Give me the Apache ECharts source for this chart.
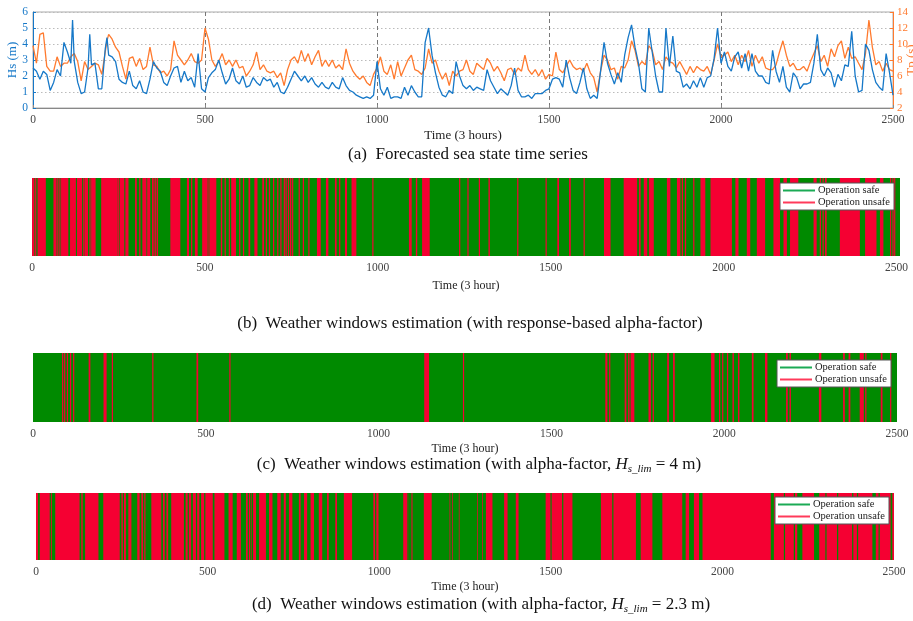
<!DOCTYPE html>
<html>
<head>
<meta charset="utf-8">
<script src="https://cdn.jsdelivr.net/npm/echarts@6/dist/echarts.min.js"></script>
<style>html,body{margin:0;padding:0;background:#fff;}#c{width:913px;height:621px;}</style>
</head>
<body>
<div id="c"></div>
<script>
// ---------- Panel (a): forecasted sea state ----------
const timeA = [0,10,20,30,40,50,60,70,80,90,
  100,110,115,120,130,140,150,160,165,170,180,190,
  200,210,215,220,230,240,250,260,270,280,290,
  300,310,320,330,340,350,360,370,380,390,
  400,410,420,430,440,450,460,470,480,490,
  500,510,520,530,540,550,560,570,580,590,
  600,610,620,630,640,650,660,670,680,690,
  700,710,720,730,740,750,760,770,780,790,
  800,810,820,830,840,850,860,870,880,890,
  900,910,920,930,940,950,960,970,980,990,
  1000,1010,1020,1030,1040,1050,1060,1070,1080,1090,
  1100,1110,1120,1130,1140,1150,1160,1170,1180,1190,
  1200,1210,1220,1230,1240,1250,1260,1270,1280,1290,
  1300,1310,1320,1330,1340,1350,1360,1370,1380,1390,
  1400,1410,1420,1430,1440,1450,1460,1470,1480,1490,
  1500,1510,1520,1530,1540,1550,1560,1570,1580,1590,
  1600,1610,1620,1630,1640,1650,1660,1670,1680,1690,
  1700,1710,1720,1730,1740,1750,1760,1770,1780,1790,
  1800,1810,1820,1830,1840,1850,1860,1870,1880,1890,
  1900,1910,1920,1930,1940,1950,1960,1970,1980,1990,
  2000,2010,2020,2030,2040,2050,2060,2070,2080,2090,
  2100,2110,2120,2130,2140,2150,2160,2170,2180,2190,
  2200,2210,2220,2230,2240,2250,2260,2270,2280,2290,
  2300,2310,2320,2330,2340,2350,2360,2370,2380,2390,
  2400,2410,2420,2430,2440,2450,2460,2470,2480,2490,
  2500];
const hsValues = [2.5,2.3,1.8,2.3,2.1,1.1,1.6,2.4,2.0,4.1,
  3.5,2.8,5.5,2.9,1.6,0.9,1.0,2.5,4.6,2.7,2.8,1.2,
  1.2,3.7,4.4,3.3,3.2,2.9,1.8,1.6,1.5,2.3,1.4,
  1.2,1.7,1.0,0.9,1.8,2.9,2.5,2.3,1.6,1.4,
  2.0,2.5,2.6,1.6,2.3,1.7,1.9,1.3,3.4,1.2,
  1.0,1.9,2.2,2.4,3.0,2.2,1.5,1.8,2.5,1.7,
  1.5,2.0,1.3,1.4,1.9,1.6,1.4,1.9,1.7,1.8,
  1.3,1.6,1.0,0.9,1.3,1.8,2.3,2.0,1.7,2.0,
  1.6,1.9,1.5,1.3,1.6,1.3,1.2,1.6,1.3,1.2,
  1.9,1.4,1.1,1.0,0.8,0.7,0.6,0.7,0.6,0.8,
  2.9,1.2,0.8,1.3,0.6,0.7,0.7,0.6,1.3,0.8,
  1.4,1.0,0.7,0.7,4.1,5.0,3.3,2.2,1.3,0.8,
  0.7,1.1,0.9,2.9,2.0,1.4,1.2,1.4,1.1,1.3,
  1.2,1.1,2.4,1.7,1.3,0.9,1.2,1.0,0.8,1.4,
  2.5,1.1,0.7,0.7,0.8,0.6,0.9,0.9,0.9,1.1,
  1.2,1.8,1.9,1.8,1.3,3.0,1.9,1.1,0.9,1.6,
  2.5,1.2,0.6,0.8,0.6,2.3,4.1,2.8,2.1,1.5,
  2.2,1.6,3.3,4.4,5.2,3.8,2.8,1.2,1.0,5.0,
  3.5,2.0,1.0,1.0,5.0,2.6,4.5,2.3,2.2,1.3,
  1.5,1.2,1.7,1.3,1.9,1.3,1.9,2.0,3.1,5.0,
  2.8,3.5,2.6,2.3,3.2,3.5,2.5,3.4,2.3,3.4,
  2.3,2.0,2.0,1.6,1.5,3.6,2.3,1.6,2.6,1.3,
  1.0,2.2,1.9,1.2,1.5,1.5,1.6,2.8,4.6,2.4,
  2.0,2.5,2.2,1.3,2.1,1.7,2.7,2.6,4.8,2.0,
  1.0,1.1,4.0,3.6,2.4,1.6,1.3,1.1,3.4,2.2,
  0.8];
const tpValues = [9.8,7.6,11.2,11.4,7.2,6.6,6.6,8.4,7.2,7.6,
  7.6,8.4,8.6,8.8,7.8,5.4,7.8,6.8,7.0,7.2,7.6,7.4,
  6.2,9.0,10.4,11.2,10.6,9.6,9.0,7.2,5.6,8.2,8.4,
  7.2,8.2,6.8,7.2,9.6,7.4,7.2,6.4,6.6,6.0,
  6.8,10.4,8.6,8.0,7.4,8.0,8.8,7.8,7.6,8.0,
  12.0,10.6,8.0,7.2,7.8,8.8,7.4,8.0,7.2,8.0,
  7.0,7.2,6.0,6.6,7.4,9.0,6.8,7.4,6.6,6.4,
  6.6,5.8,6.4,4.8,6.8,8.0,8.4,7.6,9.2,7.8,
  8.8,7.4,8.4,9.2,7.2,8.0,7.2,8.0,7.0,7.4,
  6.8,9.4,7.6,6.6,6.0,5.6,6.0,5.2,4.8,6.2,
  7.0,8.4,6.6,6.2,7.4,5.6,7.8,6.0,7.0,8.0,
  8.6,6.8,6.6,6.2,7.0,9.4,7.6,8.0,6.6,5.6,
  6.4,4.8,6.6,6.0,6.6,6.8,8.0,6.6,6.2,7.6,
  7.2,6.8,8.2,7.6,6.6,7.2,6.4,5.4,6.8,7.0,
  6.2,7.0,6.6,8.6,6.8,6.2,6.8,6.0,6.8,5.6,
  6.2,6.0,9.0,6.8,6.4,7.2,8.0,7.2,6.8,7.0,
  6.6,7.6,6.4,5.8,4.0,6.6,8.6,8.0,6.8,7.0,
  5.6,7.2,7.0,8.0,10.4,9.2,7.2,7.8,7.4,9.8,
  9.2,7.4,7.8,6.8,8.4,7.8,7.6,7.0,7.8,7.0,
  6.2,7.2,6.4,7.2,6.8,6.6,7.2,6.2,8.0,10.0,
  8.4,8.6,9.0,7.8,8.6,7.4,8.6,7.8,9.2,7.2,
  8.6,7.6,8.4,7.0,6.8,6.8,7.4,9.0,10.4,8.6,
  7.2,7.6,6.8,6.8,7.2,6.6,7.8,8.8,9.8,7.8,
  8.6,7.2,9.4,8.4,9.8,10.4,8.2,9.6,8.2,8.4,
  7.6,6.8,8.8,13.0,9.6,7.4,7.8,6.6,7.6,6.8,
  6.6];

// ---------- Panels (b)-(d): weather windows (start, end in time steps) ----------
const bUnsafe = [[0,7],[9,11],[16,40],[62,71],[73,75],[79,80],[84,105],[110,127],[130,132],[133,145],
  [148,150],[152,162],[166,168],[171,184],[200,248],[249,251],[254,267],[270,279],[298,303],[310,312],
  [319,331],[333,342],[347,349],[351,353],[356,358],[361,363],[400,429],[448,454],[460,462],[471,479],
  [492,508],[510,512],[514,533],[546,550],[557,559],[569,571],[576,590],[599,601],[610,612],[626,631],
  [643,652],[666,671],[676,678],[685,687],[697,699],[709,711],[718,720],[728,730],[733,736],[740,742],
  [746,750],[752,754],[771,773],[783,785],[799,801],[824,835],[850,857],[876,881],[888,890],[905,911],
  [924,938],[984,986],[1090,1098],[1110,1114],[1128,1150],[1235,1237],[1259,1261],[1292,1294],[1320,1324],
  [1403,1405],[1485,1487],[1519,1524],[1553,1558],[1595,1597],[1654,1673],[1711,1750],[1755,1760],
  [1769,1779],[1784,1798],[1836,1846],[1865,1875],[1879,1881],[1888,1890],[1912,1914],[1933,1947],
  [1962,2024],[2034,2043],[2067,2077],[2096,2120],[2144,2163],[2173,2183],[2192,2216],[2260,2269],
  [2278,2280],[2286,2288],[2293,2298],[2336,2394],[2409,2442],[2452,2462],[2481,2484],[2488,2490],[2493,2495]];
const cUnsafe = [[84,86],[90,92],[98,100],[107,109],[116,118],[161,166],[204,213],[228,230],[345,347],
  [473,478],[568,570],[1132,1146],[1244,1246],[1656,1662],[1667,1669],[1712,1717],[1722,1726],[1729,1740],
  [1781,1788],[1793,1795],[1835,1840],[1852,1857],[1962,1972],[1985,1987],[1994,1996],[2008,2011],
  [2024,2028],[2040,2044],[2080,2085],[2118,2125],[2179,2184],[2189,2193],[2274,2281],[2344,2349],
  [2360,2365],[2392,2404],[2408,2411],[2453,2458],[2480,2483]];
const dSafe = [[6,11],[40,42],[46,56],[127,132],[136,143],[182,196],[244,249],[253,255],[262,269],[278,295],
  [302,307],[312,314],[319,336],[365,370],[375,380],[385,394],[431,436],[442,444],[452,457],[466,468],
  [476,481],[490,492],[515,520],[549,561],[573,585],[597,612],[617,619],[624,626],[629,631],[641,650],
  [670,679],[689,703],[713,722],[728,737],[747,766],[771,781],[790,800],[810,824],[834,848],[853,872],
  [877,897],[921,983],[988,990],[998,1070],[1082,1084],[1085,1094],[1097,1130],[1153,1205],[1207,1213],
  [1215,1232],[1234,1285],[1287,1300],[1302,1311],[1330,1364],[1374,1398],[1406,1485],[1499,1502],
  [1533,1536],[1563,1646],[1679,1681],[1748,1762],[1796,1825],[1883,1893],[1903,1917],[1932,1942],
  [2141,2150],[2179,2181],[2208,2210],[2218,2233],[2267,2282],[2300,2302],[2334,2336],[2378,2380],
  [2392,2394],[2437,2447],[2455,2457],[2490,2495]];

const captions = [
  '(a)  Forecasted sea state time series',
  '(b)  Weather windows estimation (with response-based alpha-factor)',
  '(c)  Weather windows estimation (with alpha-factor, {i|H}{s|s_lim}{n| = 4 m)}',
  '(d)  Weather windows estimation (with alpha-factor, {i|H}{s|s_lim}{n| = 2.3 m)}'
];
const xTicks = [0, 500, 1000, 1500, 2000, 2500];

const SERIF = '"Liberation Serif","DejaVu Serif",serif';
const BLUE = '#1678C8', ORANGE = '#FF7A2E';
const GREEN = '#008A00', RED = '#F50032';

function renderBand(params, api) {
  const s = api.value(0), e = api.value(1);
  const p0 = api.coord([s, 1]);
  const p1 = api.coord([e, 0]);
  const cs = params.coordSys;
  const rect = echarts.graphic.clipRectByRect(
    {x: p0[0], y: p0[1], width: Math.max(p1[0] - p0[0], 1.2), height: p1[1] - p0[1]},
    {x: cs.x, y: cs.y, width: cs.width, height: cs.height});
  return rect && {type: 'rect', shape: rect, style: {fill: api.visual('color')}};
}

const chart = echarts.init(document.getElementById('c'), null, {renderer: 'canvas'});

const grids = [
  {left: 33, right: 20, top: 12, height: 96, show: true, borderColor: '#aaa', borderWidth: 1,
    containLabel: false, outerBoundsMode: 'none'},
  {left: 32, right: 13, top: 178, height: 78, containLabel: false, outerBoundsMode: 'none'},
  {left: 33, right: 16, top: 353, height: 69, containLabel: false, outerBoundsMode: 'none'},
  {left: 36, right: 19, top: 493, height: 67, containLabel: false, outerBoundsMode: 'none'}
];
const maxes = [2500, 2510, 2500, 2500];
const nameGaps = [21, 24, 21, 21];

const xAxes = grids.map((g, i) => ({
  type: 'value', gridIndex: i, min: 0, max: maxes[i], interval: 500,
  name: i === 0 ? 'Time (3 hours)' : 'Time (3 hour)',
  nameLocation: 'middle', nameGap: nameGaps[i],
  nameTextStyle: {fontFamily: SERIF, fontSize: i === 0 ? 13 : 12, color: '#222'},
  axisLine: {show: i === 0, lineStyle: {color: '#888'}},
  axisTick: {show: i === 0, inside: true, length: 3, lineStyle: {color: '#888'}},
  axisLabel: {fontFamily: SERIF, fontSize: 11.5, color: '#444', margin: 6,
    formatter: v => xTicks.includes(v) ? String(v) : ''},
  splitLine: {show: i === 0, lineStyle: {color: '#777', type: [4, 3], width: 1}}
}));

const yAxes = [
  {type: 'value', gridIndex: 0, min: 0, max: 6, interval: 1, position: 'left',
    name: 'Hs (m)', nameLocation: 'middle', nameGap: 14, nameRotate: 90, nameMoveOverlap: false,
    nameTextStyle: {fontFamily: SERIF, fontSize: 13, color: BLUE},
    axisLine: {show: true, lineStyle: {color: BLUE}},
    axisTick: {show: true, inside: true, length: 3, lineStyle: {color: BLUE}},
    axisLabel: {fontFamily: SERIF, fontSize: 11.5, color: BLUE, margin: 5},
    splitLine: {show: true, lineStyle: {color: '#bbb', type: [1.5, 2.5], width: 1}}},
  {type: 'value', gridIndex: 0, min: 2, max: 14, interval: 2, position: 'right',
    name: 'Tp (s)', nameLocation: 'middle', nameGap: 12, nameRotate: 90, nameMoveOverlap: false,
    nameTextStyle: {fontFamily: SERIF, fontSize: 13, color: ORANGE},
    axisLine: {show: true, lineStyle: {color: ORANGE}},
    axisTick: {show: true, inside: true, length: 3, lineStyle: {color: ORANGE}},
    axisLabel: {fontFamily: SERIF, fontSize: 11, color: ORANGE, margin: 4},
    splitLine: {show: false}},
  {type: 'value', gridIndex: 1, min: 0, max: 1, show: false},
  {type: 'value', gridIndex: 2, min: 0, max: 1, show: false},
  {type: 'value', gridIndex: 3, min: 0, max: 1, show: false}
];

function band(name, color, data, gi) {
  return {type: 'custom', name: name, xAxisIndex: gi, yAxisIndex: gi + 1,
    renderItem: renderBand, itemStyle: {color: color}, data: data, silent: true, animation: false};
}

const series = [
  {type: 'line', name: 'Tp', xAxisIndex: 0, yAxisIndex: 1, showSymbol: false, animation: false,
    lineStyle: {color: ORANGE, width: 1.3}, itemStyle: {color: ORANGE},
    data: timeA.map((t, i) => [t, tpValues[i]])},
  {type: 'line', name: 'Hs', xAxisIndex: 0, yAxisIndex: 0, showSymbol: false, animation: false,
    lineStyle: {color: BLUE, width: 1.3}, itemStyle: {color: BLUE},
    data: timeA.map((t, i) => [t, hsValues[i]])},
  band('Operation safe', GREEN, [[0, 2510]], 1),
  band('Operation unsafe', RED, bUnsafe, 1),
  band('Operation safe', GREEN, [[0, 2500]], 2),
  band('Operation unsafe', RED, cUnsafe, 2),
  band('Operation unsafe', RED, [[0, 2500]], 3),
  band('Operation safe', GREEN, dSafe, 3)
];

const legendPos = [[780, 183], [777, 360], [775, 497]];
const legends = legendPos.map(p => ({
  left: p[0], top: p[1], orient: 'vertical', selectedMode: false,
  backgroundColor: '#fff', borderColor: '#555', borderWidth: 1, padding: [2, 4, 2, 3],
  itemGap: 1, itemWidth: 32, itemHeight: 2, icon: 'rect',
  textStyle: {fontFamily: SERIF, fontSize: 10.5, color: '#222', padding: [0, 0, 0, -2]},
  data: [{name: 'Operation safe', itemStyle: {color: '#1BAA55'}},
         {name: 'Operation unsafe', itemStyle: {color: '#FF3A5A'}}]
}));

const capPos = [[468, 155], [470, 324], [479, 465], [481, 605]];
const rich = {
  i: {fontFamily: SERIF, fontSize: 17, fontStyle: 'italic', color: '#111'},
  s: {fontFamily: SERIF, fontSize: 11, fontStyle: 'italic', color: '#111', padding: [9, 0, 0, 0]},
  n: {fontFamily: SERIF, fontSize: 17, color: '#111'}
};
const graphics = captions.map((c, i) => ({
  type: 'text', x: capPos[i][0], y: capPos[i][1], silent: true,
  style: {text: c, fontFamily: SERIF, fontSize: 17, fill: '#111', align: 'center',
    verticalAlign: 'middle', rich: rich}
}));

chart.setOption({
  backgroundColor: '#fff',
  animation: false,
  grid: grids,
  xAxis: xAxes,
  yAxis: yAxes,
  legend: legends,
  series: series,
  graphic: graphics
});
</script>
</body>
</html>
